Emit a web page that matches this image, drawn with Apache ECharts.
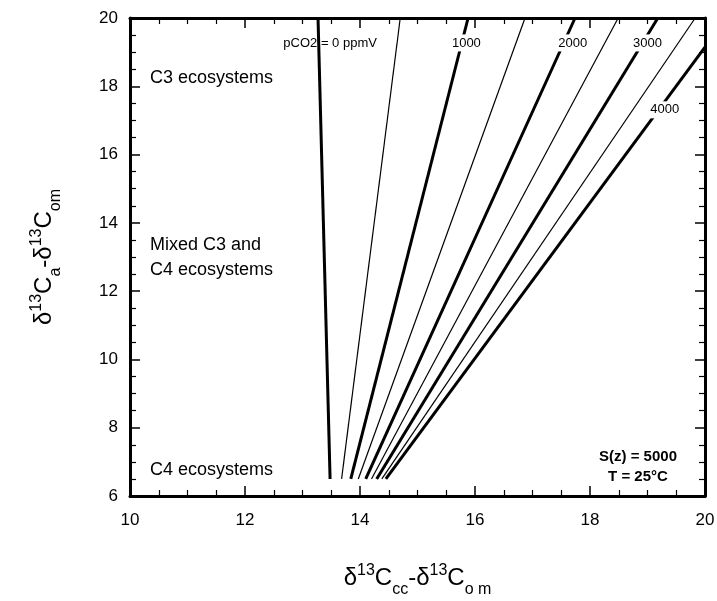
<!DOCTYPE html>
<html>
<head>
<meta charset="utf-8">
<script src="https://cdn.jsdelivr.net/npm/echarts@6/dist/echarts.min.js"></script>
<style>
  html, body { margin: 0; padding: 0; background: #fff; }
  #chart { width: 717px; height: 601px; }
</style>
</head>
<body>
<div id="chart"></div>
<script>
  // pCO2 isolines, every 500 ppmV (thick at multiples of 1000)
  const pco2Levels = [0, 500, 1000, 1500, 2000, 2500, 3000, 3500, 4000]
  // start points at the bottom (y = 6.5)
  const bottomX = [13.48, 13.68, 13.84, 13.97, 14.10, 14.20, 14.29, 14.38, 14.45]
  const bottomY = [6.5, 6.5, 6.5, 6.5, 6.5, 6.5, 6.5, 6.5, 6.5]
  // end points where the lines leave the frame
  const topX = [13.27, 14.70, 15.88, 16.87, 17.74, 18.49, 19.18, 19.83, 20]
  const topY = [20, 20, 20, 20, 20, 20, 20, 20, 19.15]
  // line labels: [level index, x, y, text]
  const lineLabels = [
    [0, 13.48, 19.27, 'pCO2 = 0 ppmV'],
    [2, 15.85, 19.27, '1000'],
    [4, 17.70, 19.27, '2000'],
    [6, 19.00, 19.27, '3000'],
    [8, 19.30, 17.31, '4000']
  ]
  const xTicks = [10, 12, 14, 16, 18, 20]
  const yTicks = [6, 8, 10, 12, 14, 16, 18, 20]

  const font = 'Liberation Sans, Arial, sans-serif'
  const chart = echarts.init(document.getElementById('chart'))

  const series = pco2Levels.map((p, i) => {
    const s = {
      name: String(p),
      type: 'line',
      data: [[bottomX[i], bottomY[i]], [topX[i], topY[i]]],
      showSymbol: false,
      silent: true,
      animation: false,
      lineStyle: { color: '#000', width: p % 1000 === 0 ? 3 : 1.2 }
    }
    const lab = lineLabels.find(l => l[0] === i)
    if (lab) {
      s.markPoint = {
        symbol: 'circle',
        symbolSize: 1,
        itemStyle: { color: 'rgba(0,0,0,0)' },
        z: 10,
        animation: false,
        data: [{
          coord: [lab[1], lab[2]],
          label: {
            show: true,
            position: 'inside',
            formatter: lab[3],
            color: '#000',
            fontSize: 13,
            fontFamily: font,
            backgroundColor: i === 0 ? 'transparent' : '#fff',
            padding: [2, 1]
          }
        }]
      }
    }
    return s
  })

  const tickStyle = {
    axisLine: { show: true, lineStyle: { color: '#000', width: 3 } },
    axisTick: { show: true, inside: true, length: 10, lineStyle: { color: '#000', width: 1.5 } },
    minorTick: { show: true, splitNumber: 4, length: 6, lineStyle: { color: '#000', width: 1.2 } },
    splitLine: { show: false },
    minorSplitLine: { show: false }
  }

  const titleRich = {
    m: { fontSize: 24, fontFamily: font, color: '#000' },
    sup: { fontSize: 16, fontFamily: font, color: '#000', padding: [0, 0, 15, 0] },
    sub: { fontSize: 16, fontFamily: font, color: '#000', padding: [24, 0, 0, 0] }
  }

  const option = {
    backgroundColor: '#fff',
    animation: false,
    grid: { left: 130, right: 12, top: 18, bottom: 105, outerBoundsMode: 'none' },
    xAxis: [
      Object.assign({
        type: 'value', min: xTicks[0], max: xTicks[xTicks.length - 1], interval: 2,
        axisLabel: { color: '#000', fontSize: 17, fontFamily: font, margin: 16 },
        name: '{m|δ}{sup|13}{m|C}{sub|cc}{m|-δ}{sup|13}{m|C}{sub|o m}',
        nameLocation: 'middle',
        nameGap: 62,
        nameTextStyle: { color: '#000', rich: titleRich }
      }, tickStyle),
      Object.assign({
        type: 'value', position: 'top', min: 10, max: 20, interval: 2,
        axisLabel: { show: false }
      }, tickStyle)
    ],
    yAxis: [
      Object.assign({
        type: 'value', min: yTicks[0], max: yTicks[yTicks.length - 1], interval: 2,
        axisLabel: { color: '#000', fontSize: 17, fontFamily: font, margin: 12 },
        name: '{m|δ}{sup|13}{m|C}{sub|a}{m|-δ}{sup|13}{m|C}{sub|om}',
        nameLocation: 'middle',
        nameRotate: 90,
        nameGap: 66,
        nameTextStyle: { color: '#000', rich: titleRich }
      }, tickStyle),
      Object.assign({
        type: 'value', position: 'right', min: 6, max: 20, interval: 2,
        axisLabel: { show: false }
      }, tickStyle)
    ],
    graphic: [
      { type: 'text', x: 150, y: 78, style: { text: 'C3 ecosystems', font: '18px ' + font, fill: '#000', verticalAlign: 'middle' } },
      { type: 'text', x: 150, y: 258, style: { text: 'Mixed C3 and\nC4 ecosystems', font: '18px ' + font, fill: '#000', lineHeight: 25, verticalAlign: 'middle' } },
      { type: 'text', x: 150, y: 470, style: { text: 'C4 ecosystems', font: '18px ' + font, fill: '#000', verticalAlign: 'middle' } },
      { type: 'text', x: 638, y: 467, style: { text: 'S(z) = 5000\nT = 25°C', font: 'bold 15px ' + font, fill: '#000', align: 'center', verticalAlign: 'middle', lineHeight: 20 } }
    ],
    series: series
  }
  chart.setOption(option)
</script>
</body>
</html>
